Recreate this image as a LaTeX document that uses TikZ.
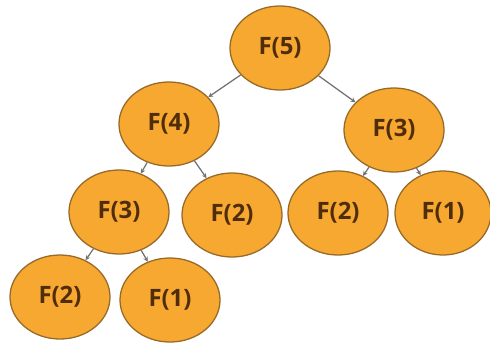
\documentclass[tikz,border=0pt]{standalone}
\usepackage{fontspec}
\setmainfont{Open Sans}
\usetikzlibrary{shapes.geometric, arrows.meta}
\definecolor{callfill}{RGB}{246,168,48}
\definecolor{callline}{RGB}{150,105,40}
\definecolor{calltext}{RGB}{80,45,10}

\begin{document}
\begin{tikzpicture}[x=0.025cm, y=0.025cm]
        % Define styles
        \tikzstyle{call} = [ellipse, draw=callline, line width=0.9pt, fill=callfill, minimum width=2.5cm, minimum height=2.1cm, inner sep=0pt, font=\fontsize{17}{20}\selectfont\bfseries, text=calltext]
        \tikzstyle{arrow} = [-{Stealth[length=1.2mm, width=1.2mm]}, gray!90!black, line width=0.9pt]

        \useasboundingbox (0,0) rectangle (490,344);

        % Calls - recursion tree
        \node[call] (f5) at (280, 296) {F(5)};
        \node[call] (f4) at (169, 220) {F(4)};
        \node[call] (f3r) at (394, 214) {F(3)};
        \node[call] (f3l) at (119, 132) {F(3)};
        \node[call] (f2m) at (232, 129) {F(2)};
        \node[call] (f2r) at (338, 131) {F(2)};
        \node[call, minimum width=2.4cm] (f1r) at (443, 131) {F(1)};
        \node[call] (f2b) at (60, 47) {F(2)};
        \node[call] (f1b) at (170, 44) {F(1)};

        % Connections
        \draw[arrow] (f5) -- (f4);
        \draw[arrow] (f5) -- (f3r);
        \draw[arrow] (f4) -- (f3l);
        \draw[arrow] (f4) -- (f2m);
        \draw[arrow] (f3r) -- (f2r);
        \draw[arrow] (f3r) -- (f1r);
        \draw[arrow] (f3l) -- (f2b);
        \draw[arrow] (f3l) -- (f1b);

    \end{tikzpicture}
\end{document}
